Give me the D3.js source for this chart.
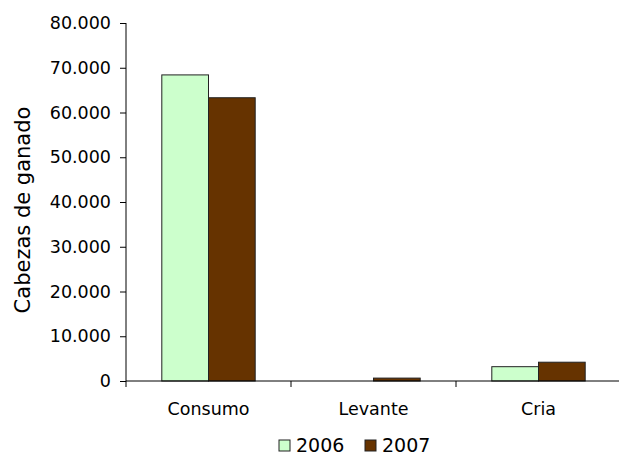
<!DOCTYPE html>
<html>
<head>
<meta charset="utf-8">
<script src="https://cdn.jsdelivr.net/npm/d3@7"></script>
<style>
  body { margin: 0; background: #fff; }
  svg text { font-family: "DejaVu Sans", Verdana, sans-serif; }
</style>
</head>
<body>
<svg id="chart" width="619" height="456"></svg>
<script>
// data
const categories = ["Consumo", "Levante", "Cria"];
const series = ["2006", "2007"];
const values2006 = [68400, 0, 3200];
const values2007 = [63300, 650, 4200];
const yTicks = [0, 10000, 20000, 30000, 40000, 50000, 60000, 70000, 80000];
const colors = ["#ccffcc", "#663300"];

const rows = categories.map((c, i) => ({ cat: c, vals: [values2006[i], values2007[i]] }));

const svg = d3.select("#chart");
const plotLeft = 126, plotRight = 621, plotTop = 23, plotBottom = 381;

let x = d3.scaleBand().domain(categories).range([plotLeft, plotRight]).padding(0);
let bw = x.bandwidth();
let x1 = d3.scaleBand().domain(series).range([bw * 0.217, bw * 0.783]).padding(0);
let y = d3.scaleLinear().domain([0, 80000]).range([plotBottom, plotTop]);

const fmt = d => d === 0 ? "0" : d3.format(",")(d).replace(/,/g, ".");

// y axis
const gy = svg.append("g").attr("transform", `translate(${plotLeft},0)`)
    .call(d3.axisLeft(y).tickValues(yTicks).tickFormat(fmt).tickSize(6).tickPadding(9));
gy.select(".domain").attr("d", `M0,${plotTop}V${plotBottom + 6}`);
gy.selectAll("text").style("font-size", "17.5px").attr("fill", "#000");
gy.selectAll("line").attr("stroke", "#000");

// bars
const groups = svg.append("g").selectAll("g")
    .data(rows)
    .enter()
    .append("g")
    .attr("transform", d => `translate(${x(d.cat)},0)`);

groups.selectAll("rect")
    .data(d => d.vals.map((v, j) => ({ s: series[j], v: v, j: j })).filter(d => d.v > 0))
    .enter()
    .append("rect")
    .attr("x", d => x1(d.s))
    .attr("y", d => y(d.v))
    .attr("width", x1.bandwidth())
    .attr("height", d => y(0) - y(d.v))
    .attr("fill", d => colors[d.j])
    .attr("stroke", "#222")
    .attr("stroke-width", 1);

// x axis
const gx = svg.append("g").attr("transform", `translate(0,${plotBottom})`)
    .call(d3.axisBottom(x).tickSize(0).tickPadding(22));
gx.select(".domain").attr("d", `M${plotLeft},0H${plotRight}`).attr("stroke", "#000");
gx.selectAll("text").style("font-size", "17.5px").attr("fill", "#000");

// category boundary ticks
gx.selectAll(".sep")
    .data(categories)
    .enter()
    .append("line")
    .attr("class", "sep")
    .attr("x1", d => x(d) + bw)
    .attr("x2", d => x(d) + bw)
    .attr("y1", 0)
    .attr("y2", 6)
    .attr("stroke", "#000");

// y title
svg.append("text")
    .attr("transform", `translate(30,${(plotTop + plotBottom) / 2 + 8}) rotate(-90)`)
    .attr("text-anchor", "middle")
    .style("font-size", "21px")
    .text("Cabezas de ganado");

// legend
const legend = svg.append("g").selectAll("g")
    .data(series)
    .enter()
    .append("g")
    .attr("transform", (d, i) => `translate(${279 + i * 86},440)`);
legend.append("rect")
    .attr("width", 11).attr("height", 11)
    .attr("fill", (d, i) => colors[i])
    .attr("stroke", "#222");
legend.append("text")
    .attr("x", 17).attr("y", 11.5)
    .style("font-size", "19px")
    .text(d => d);
</script>
</body>
</html>
